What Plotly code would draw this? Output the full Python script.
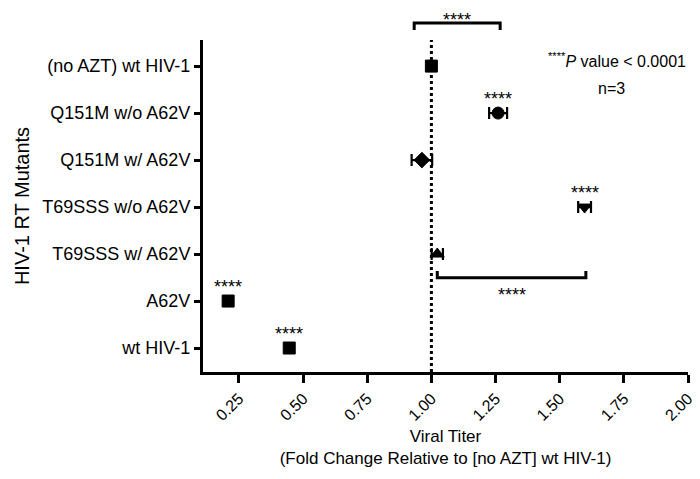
import plotly.graph_objects as go

categories = ["wt HIV-1", "A62V", "T69SSS w/ A62V", "T69SSS w/o A62V",
              "Q151M w/ A62V", "Q151M w/o A62V", "(no AZT) wt HIV-1"]
values = [0.446, 0.208, 1.023, 1.597, 0.963, 1.26, 1.0]
errors = [0.006, 0.012, 0.022, 0.025, 0.04, 0.035, 0.004]
symbols = ["square", "square", "triangle-up", "triangle-down", "diamond", "circle", "square"]
significant = [True, True, False, True, False, True, False]
x_ticks = [0.25, 0.5, 0.75, 1.0, 1.25, 1.5, 1.75, 2.0]
x_tick_labels = ["0.25", "0.50", "0.75", "1.00", "1.25", "1.50", "1.75", "2.00"]

X_RANGE = [0.11, 2.0]
Y_RANGE = [-0.51, 6.555]
FONT = "Liberation Sans, Arial, sans-serif"
STAR = dict(family=FONT, size=18, color="black")

def xp(v):
    return (v - X_RANGE[0]) / (X_RANGE[1] - X_RANGE[0])

fig = go.Figure()

# reference line at 1.0
fig.add_shape(type="line", x0=1.0, x1=1.0, y0=0, y1=1, yref="paper", xref="x",
              line=dict(color="black", width=3, dash="dot"))

for i, cat in enumerate(categories):
    fig.add_trace(go.Scatter(
        x=[values[i]], y=[i], mode="markers",
        marker=dict(symbol=symbols[i], size=12, color="black",
                    line=dict(color="black", width=1)),
        error_x=dict(type="constant", value=errors[i], color="black",
                     thickness=2.2, width=6),
        showlegend=False, cliponaxis=False))
    if significant[i]:
        fig.add_annotation(x=values[i], y=i, text="****", showarrow=False,
                           yshift=14, font=STAR)

# top bracket (no AZT vs Q151M w/o A62V), above the plot area
bx0, bx1 = 0.933, 1.268
by, bdrop = 1.051, 1.03
fig.add_shape(type="path", xref="paper", yref="paper",
              path=f"M {xp(bx0)},{bdrop} L {xp(bx0)},{by} L {xp(bx1)},{by} L {xp(bx1)},{bdrop}",
              line=dict(color="black", width=3))
fig.add_annotation(x=xp((bx0 + bx1) / 2), xref="paper", y=by, yref="paper",
                   text="****", showarrow=False, yshift=15, font=STAR)

# lower bracket (T69SSS w/ vs w/o A62V)
cx0, cx1, cy, crise = 1.023, 1.602, 1.496, 1.64
fig.add_shape(type="path", xref="x", yref="y",
              path=f"M {cx0},{crise} L {cx0},{cy} L {cx1},{cy} L {cx1},{crise}",
              line=dict(color="black", width=3))
fig.add_annotation(x=(cx0 + cx1) / 2, y=cy, text="****", showarrow=False,
                   yshift=-17, font=STAR)

fig.add_annotation(x=1.0, xref="paper", xanchor="right", y=6.13, yref="y",
                   text="<sup>****</sup><i>P</i> value < 0.0001", showarrow=False,
                   font=dict(family=FONT, size=16, color="black"))
fig.add_annotation(x=1.703, y=5.53, text="n=3", showarrow=False,
                   font=dict(family=FONT, size=16, color="black"))

fig.update_layout(
    width=700, height=479,
    paper_bgcolor="white", plot_bgcolor="white",
    margin=dict(l=192, r=18, t=32, b=115),
    font=dict(family=FONT, size=16, color="black"),
    xaxis=dict(range=X_RANGE, tickvals=x_ticks, ticktext=x_tick_labels,
               tickangle=-45, ticks="outside", ticklen=8, tickwidth=3,
               tickcolor="black", showline=True, linewidth=3, linecolor="black",
               showgrid=False, zeroline=False, tickfont=dict(size=16),
               title=dict(text="Viral Titer<br>(Fold Change Relative to [no AZT] wt HIV-1)",
                          font=dict(size=17), standoff=8)),
    yaxis=dict(range=Y_RANGE, tickvals=list(range(len(categories))),
               ticktext=categories, ticks="outside", ticklen=6, tickwidth=2.5,
               tickcolor="black", showline=True, linewidth=3, linecolor="black",
               showgrid=False, zeroline=False, tickfont=dict(size=18),
               title=dict(text="HIV-1 RT Mutants", font=dict(size=20), standoff=8)),
)

fig.write_html("out.html")
